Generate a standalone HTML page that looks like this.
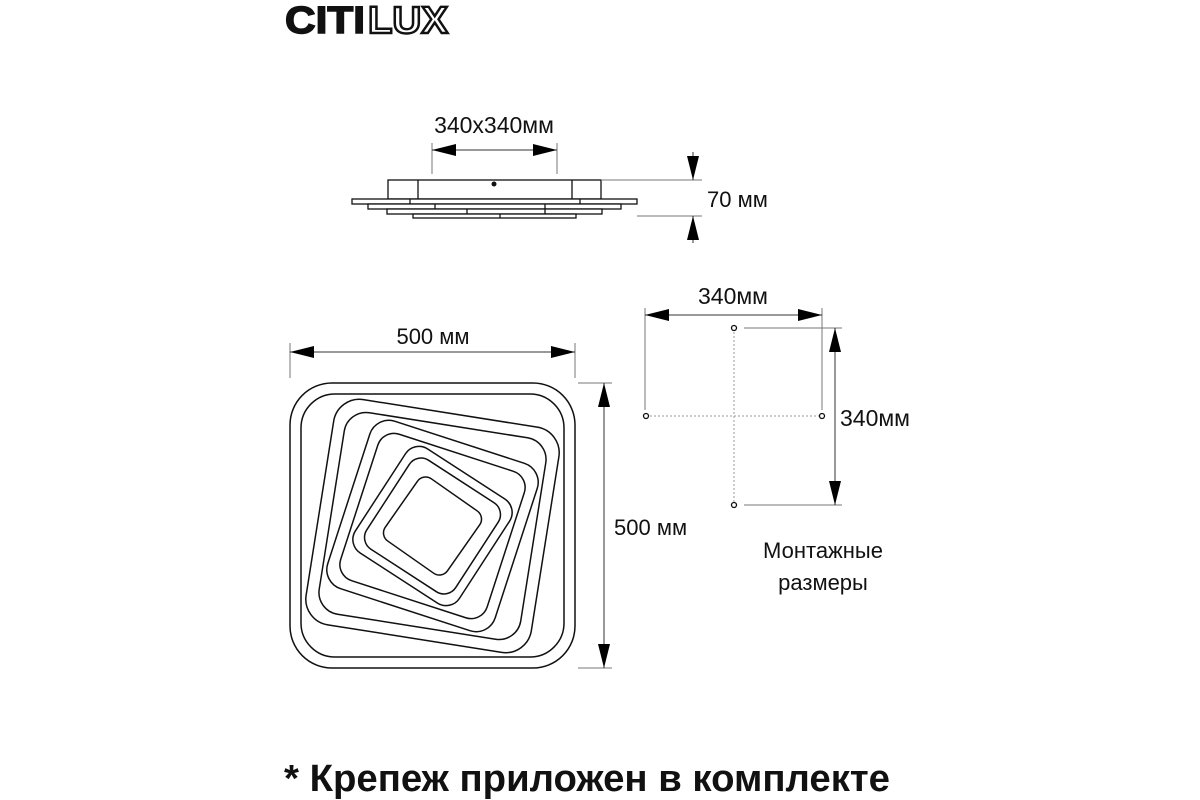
<!DOCTYPE html>
<html><head><meta charset="utf-8"><style>
html,body{margin:0;padding:0;background:#fff;}
svg{display:block;}
text{font-family:"Liberation Sans",sans-serif;}
</style></head><body>
<svg width="1200" height="800" viewBox="0 0 1200 800" xmlns="http://www.w3.org/2000/svg">
<defs>
<marker id="a" markerWidth="24" markerHeight="12" refX="24" refY="6" orient="auto" markerUnits="userSpaceOnUse"><path d="M0,0 L24,6 L0,12 z" fill="#000"/></marker>
</defs>
<!-- Logo -->
<text x="285" y="33" font-size="38" style="font-weight:900;fill:#111;stroke:#111;stroke-width:1.5" textLength="80" lengthAdjust="spacingAndGlyphs">CITI</text>
<text x="368" y="33" font-size="38" style="font-weight:bold;fill:#fff;stroke:#111;stroke-width:2.4" textLength="80" lengthAdjust="spacingAndGlyphs">LUX</text>

<!-- Side view -->
<g stroke="#111" stroke-width="1.3" fill="#fff">
<rect x="388" y="180" width="213" height="19"/>
<line x1="418" y1="180" x2="418" y2="199"/><line x1="572" y1="180" x2="572" y2="199"/>
<rect x="352" y="199" width="285" height="5"/>
<rect x="368" y="204" width="253" height="5"/>
<rect x="387" y="209" width="215" height="5"/>
<rect x="413" y="214" width="163" height="4"/>
<line x1="410" y1="199" x2="410" y2="204"/><line x1="580" y1="199" x2="580" y2="204"/>
<line x1="435" y1="204" x2="435" y2="209"/><line x1="545" y1="204" x2="545" y2="214"/>
<line x1="467" y1="209" x2="467" y2="214"/><line x1="500" y1="214" x2="500" y2="218"/>
</g>
<circle cx="494" cy="184" r="2.5" fill="#111"/>
<g stroke="#777" stroke-width="1" fill="none">
<line x1="432" y1="143" x2="432" y2="174"/><line x1="557" y1="143" x2="557" y2="174"/>
<line x1="601" y1="180" x2="702" y2="180"/><line x1="637" y1="216" x2="702" y2="216"/>
</g>
<g stroke="#333" stroke-width="1">
<line x1="494" y1="150" x2="432" y2="150" marker-end="url(#a)"/>
<line x1="494" y1="150" x2="557" y2="150" marker-end="url(#a)"/>
<line x1="693" y1="152" x2="693" y2="180" marker-end="url(#a)"/>
<line x1="693" y1="243" x2="693" y2="216" marker-end="url(#a)"/>
</g>
<text x="494" y="133" font-size="23" text-anchor="middle" fill="#111">340х340мм</text>
<text x="707" y="207" font-size="22" fill="#111">70 мм</text>

<!-- Top view -->
<g stroke="#111" stroke-width="1.5" fill="none">
<rect x="290" y="383" width="285" height="285" rx="42"/>
<rect x="301" y="394" width="263" height="263" rx="34"/>
<g transform="translate(432.5 526)">
<rect x="-114" y="-114" width="228" height="228" rx="26" transform="rotate(9)"/>
<rect x="-102" y="-102" width="204" height="204" rx="22" transform="rotate(9)"/>
<rect x="-88" y="-88" width="176" height="176" rx="20" transform="rotate(18)"/>
<rect x="-77" y="-77" width="154" height="154" rx="17" transform="rotate(18)"/>
<rect x="-62" y="-62" width="124" height="124" rx="16" transform="rotate(33)"/>
<rect x="-53" y="-53" width="106" height="106" rx="14" transform="rotate(33)"/>
<rect x="-38" y="-38" width="76" height="76" rx="10" transform="rotate(35)"/>
</g>
</g>
<g stroke="#777" stroke-width="1">
<line x1="290" y1="343" x2="290" y2="378"/><line x1="575" y1="343" x2="575" y2="378"/>
<line x1="578" y1="383" x2="612" y2="383"/><line x1="578" y1="668" x2="612" y2="668"/>
</g>
<g stroke="#333" stroke-width="1">
<line x1="432" y1="352" x2="290" y2="352" marker-end="url(#a)"/>
<line x1="432" y1="352" x2="575" y2="352" marker-end="url(#a)"/>
<line x1="604" y1="520" x2="604" y2="383" marker-end="url(#a)"/>
<line x1="604" y1="520" x2="604" y2="668" marker-end="url(#a)"/>
</g>
<text x="433" y="344" font-size="22" text-anchor="middle" fill="#111">500 мм</text>
<text x="614" y="535" font-size="22" fill="#111">500 мм</text>

<!-- Mounting -->
<g stroke="#999" stroke-width="1" stroke-dasharray="2,2">
<line x1="646" y1="416" x2="822" y2="416"/><line x1="734" y1="328" x2="734" y2="505"/>
</g>
<g stroke="#777" stroke-width="1">
<line x1="645" y1="308" x2="645" y2="410"/><line x1="822" y1="308" x2="822" y2="410"/>
<line x1="744" y1="328" x2="842" y2="328"/><line x1="744" y1="505" x2="842" y2="505"/>
</g>
<g stroke="#333" stroke-width="1">
<line x1="733" y1="315" x2="645" y2="315" marker-end="url(#a)"/>
<line x1="733" y1="315" x2="822" y2="315" marker-end="url(#a)"/>
<line x1="835" y1="416" x2="835" y2="328" marker-end="url(#a)"/>
<line x1="835" y1="416" x2="835" y2="505" marker-end="url(#a)"/>
</g>
<g fill="#fff" stroke="#111" stroke-width="1.3">
<circle cx="646" cy="416" r="2.5"/><circle cx="822" cy="416" r="2.5"/>
<circle cx="734" cy="328" r="2.5"/><circle cx="734" cy="505" r="2.5"/>
</g>
<text x="733" y="304" font-size="23" text-anchor="middle" fill="#111">340мм</text>
<text x="840" y="426" font-size="23" fill="#111">340мм</text>
<text x="823" y="558" font-size="22" text-anchor="middle" fill="#111">Монтажные</text>
<text x="823" y="590" font-size="22" text-anchor="middle" fill="#111">размеры</text>

<text x="284" y="791" font-size="38" font-weight="bold" fill="#111" textLength="606" lengthAdjust="spacingAndGlyphs">* Крепеж приложен в комплекте</text>
</svg>
</body></html>
